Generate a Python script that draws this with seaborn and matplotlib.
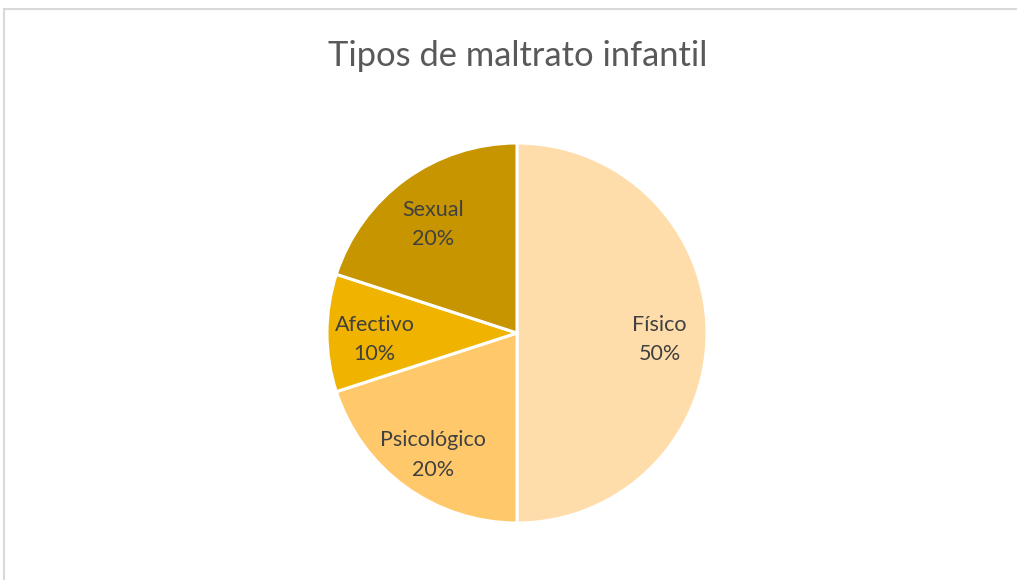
import matplotlib
matplotlib.use("Agg")
import matplotlib.pyplot as plt
import seaborn as sns
from matplotlib.lines import Line2D

# Data
categories = ["Físico", "Psicológico", "Afectivo", "Sexual"]
shares = [50, 20, 10, 20]
colors = ["#FFDDAA", "#FFC96B", "#EFB300", "#C69500"]

sns.set_theme(style="white")
plt.rcParams["font.family"] = ["Lato", "DejaVu Sans"]

fig = plt.figure(figsize=(10.17, 5.8), dpi=100)

# chart area frame (left and top edges visible)
fig.add_artist(Line2D([0.004, 0.004], [0, 0.985], color="#D9D9D9", lw=1.5,
                      transform=fig.transFigure))
fig.add_artist(Line2D([0.004, 1.0], [0.985, 0.985], color="#D9D9D9", lw=1.5,
                      transform=fig.transFigure))

# pie axes: center ~ (517, 333) px, radius ~ 190 px
r = 190
cx, cy = 517, 580 - 333
ax = fig.add_axes([(cx - r) / 1017, (cy - r) / 580, 2 * r / 1017, 2 * r / 580])

labels = [f"{c}\n{v}%" for c, v in zip(categories, shares)]
wedges, texts = ax.pie(shares, colors=colors, startangle=90, counterclock=False,
                       wedgeprops=dict(edgecolor="white", linewidth=2.2),
                       labels=labels, labeldistance=0.75,
                       textprops=dict(color="#404040", fontsize=15.5,
                                      ha="center", va="center", linespacing=1.6))
for t in texts:
    t.set_horizontalalignment("center")
    x, y = t.get_position()
    t.set_position((x, y - 0.035))
ax.set_aspect("equal")
ax.set_xlim(-1, 1)
ax.set_ylim(-1, 1)

fig.text(0.5090, 1 - 56 / 580, "Tipos de maltrato infantil", ha="center", va="center",
         fontsize=24.8, color="#595959")

fig.savefig("out.png", dpi=100, facecolor="white")
